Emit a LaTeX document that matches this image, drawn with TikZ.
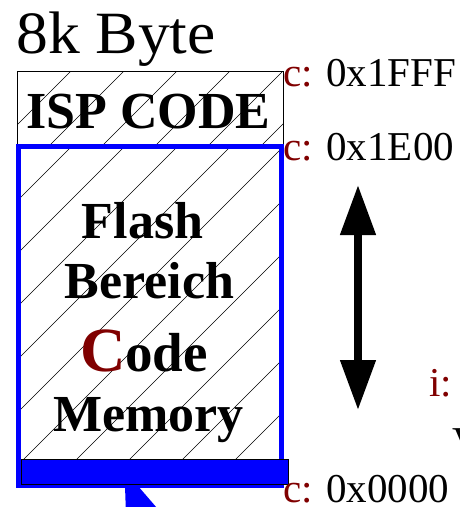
\documentclass[tikz,border=0pt]{standalone}
\usepackage{fontspec}
\setmainfont{Liberation Serif}
\usetikzlibrary{arrows.meta}
\definecolor{darkred}{HTML}{800000}
\definecolor{memblue}{HTML}{0000FF}
\begin{document}
\begin{tikzpicture}[x=1pt,y=-1pt,
  lbl/.style={anchor=base west, inner sep=0pt, font=\fontsize{41}{41}\selectfont},
  big/.style={anchor=base, inner sep=0pt, font=\fontsize{52}{52}\selectfont\bfseries},
  hatch/.style={line width=0.6pt, black},
  dbl/.style={line width=7.7pt, {Triangle[length=50pt,width=34pt]}-{Triangle[length=50pt,width=34pt]}},
]
\useasboundingbox (0,0) rectangle (459,507);
% hatching, ISP region
\begin{scope}
  \clip (17,71) rectangle (283,146);
  \foreach \k in {0,...,12} { \draw[hatch] ({36+53*\k-400},400) -- ({36+53*\k},0); }
\end{scope}
% hatching, flash region
\begin{scope}
  \clip (17,146) rectangle (283,459);
  \foreach \k in {0,...,16} { \draw[hatch] ({6+53*\k-600},600) -- ({6+53*\k},0); }
\end{scope}
\draw[line width=0.8pt] (17,71) rectangle (283,486);
\node[big] (isp) at (148.5,128) {ISP CODE};
\draw[memblue, line width=4.5pt] (18.5,146.5) rectangle (281.7,486);
\draw[fill=memblue, line width=0.8pt] (21,459) rectangle (288,484);
\fill[memblue] (125,486) -- (138,486) -- (163,515) -- (126,515) -- cycle;
\node[big] (flash) at (142.5,238) {Flash};
\node[big] (ber) at (149.5,298) {Bereich};
\node[big] (code) at (144,371) {{\fontsize{63}{63}\selectfont\color{darkred}C}{\fontsize{55}{55}\selectfont ode}};
\node[big] (mem) at (148.5,431) {Memory};
\node[anchor=base west, inner sep=0pt, font=\fontsize{60}{60}\selectfont] (title) at (16,53) {\scalebox{1.06}[1]{8k Byte}};
\node[lbl] (c1) at (283,86) {\textcolor{darkred}{c:} 0x1FFF};
\node[lbl] (c2) at (283,160) {\textcolor{darkred}{c:} 0x1E00};
\node[lbl] (c3) at (283,502) {\textcolor{darkred}{c:} 0x0000};
\node[lbl] (i1) at (429,396) {\textcolor{darkred}{i:}};
\node[lbl] (v1) at (452,455) {V};
\coordinate (atop) at (358,185);
\coordinate (abot) at (358,410);
\draw[dbl] (atop) -- (abot);
\end{tikzpicture}
\end{document}
